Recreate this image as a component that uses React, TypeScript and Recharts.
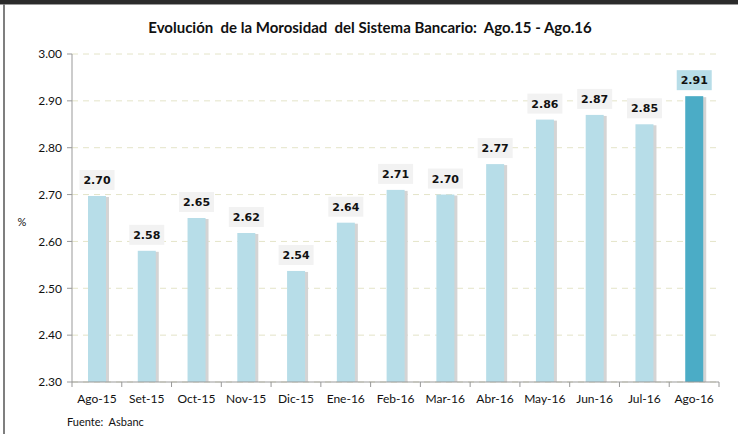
import { Bar, BarChart, CartesianGrid, Cell, LabelList, XAxis, YAxis } from "recharts";

const months = ["Ago-15", "Set-15", "Oct-15", "Nov-15", "Dic-15", "Ene-16", "Feb-16", "Mar-16", "Abr-16", "May-16", "Jun-16", "Jul-16", "Ago-16"];
const morosidad = [2.697, 2.58, 2.65, 2.618, 2.537, 2.64, 2.71, 2.70, 2.765, 2.86, 2.87, 2.85, 2.91];
const yTicks = [2.3, 2.4, 2.5, 2.6, 2.7, 2.8, 2.9, 3.0];

const data = months.map((m, i) => ({ mes: m, valor: morosidad[i] }));

const W = 738;
const H = 434;
const X_H = 30;
const M = { top: 54, right: 19, bottom: 52 - X_H, left: 0 };
const Y_W = 72;
const BAND = (W - Y_W - M.right) / months.length;
const FONT = "Lato, 'Open Sans', sans-serif";

const LIGHT = "#b7dde8";
const DARK = "#4bacc6";

function BarShape(props: any) {
  const { x, y, width, height, fill } = props;
  if (!height || height <= 0) return null;
  return (
    <g>
      <rect x={x + 1} y={y + 1} width={width + 2} height={height - 1} fill="#d4d4d4" />
      <rect x={x} y={y} width={width} height={height} fill={fill} />
    </g>
  );
}

function ValueLabel(props: any) {
  const { x, y, width, value, index } = props;
  const cx = x + width / 2;
  const bw = 35;
  const bh = 20;
  const last = index === months.length - 1;
  return (
    <g>
      <rect x={cx - bw / 2} y={y - 6 - bh} width={bw} height={bh} fill={last ? LIGHT : "#f2f2f2"} />
      <text
        x={cx}
        y={y - 6 - bh / 2 + 4}
        textAnchor="middle"
        fontFamily="'DejaVu Sans', Verdana, sans-serif"
        fontWeight="bold"
        fontSize={11}
        fill="#111"
      >
        {Number(value).toFixed(2)}
      </text>
    </g>
  );
}

function MonthTick(props: any) {
  const { x, y, payload, index } = props;
  const axisY = y - 9;
  return (
    <g>
      <line x1={x + BAND / 2} x2={x + BAND / 2} y1={axisY} y2={axisY + 5} stroke="#999" />
      {index === 0 && <line x1={x - BAND / 2} x2={x - BAND / 2} y1={axisY} y2={axisY + 5} stroke="#999" />}
      <text x={x} y={axisY + 21} textAnchor="middle" fontFamily={FONT} fontSize={12} fill="#111">
        {payload.value}
      </text>
    </g>
  );
}

export default function App() {
  return (
    <div style={{ position: "absolute", left: 0, top: 0, width: W, height: H, background: "#fff", overflow: "hidden" }}>
      {/* frame */}
      <div style={{ position: "absolute", left: 0, top: 0, width: W, height: 4, background: "#2b2b2b" }} />
      <div style={{ position: "absolute", left: 0, top: 4, width: W, height: 1, background: "#9a9a9a" }} />
      <div style={{ position: "absolute", left: 3, top: 4, width: 2, height: H - 4, background: "#7f7f7f" }} />

      <BarChart width={W} height={H} data={data} margin={M} barCategoryGap={0}>
        <text x={370} y={33} textAnchor="middle" fontFamily={FONT} fontWeight="bold" fontSize={15} fill="#111" style={{ whiteSpace: "pre" }}>
          {"Evolución  de la Morosidad  del Sistema Bancario:  Ago.15 - Ago.16"}
        </text>
        <text x={22} y={226} textAnchor="middle" fontFamily={FONT} fontSize={11} fill="#111">
          %
        </text>
        <text x={67} y={426} fontFamily={FONT} fontSize={11} fill="#111" style={{ whiteSpace: "pre" }}>
          {"Fuente:  Asbanc"}
        </text>
        <CartesianGrid vertical={false} stroke="#e4e4c8" strokeDasharray="6 5" />
        <XAxis
          dataKey="mes"
          height={X_H}
          axisLine={{ stroke: "#999" }}
          tickLine={false}
          tickSize={5}
          tickMargin={4}
          interval={0}
          tick={<MonthTick />}
        />
        <YAxis
          width={Y_W}
          domain={[2.3, 3.0]}
          ticks={yTicks}
          tickFormatter={(v) => Number(v).toFixed(2)}
          axisLine={{ stroke: "#999" }}
          tickLine={{ stroke: "#999" }}
          tickSize={5}
          tickMargin={5}
          tick={{ fontFamily: FONT, fontSize: 12, fill: "#111" }}
          allowDataOverflow
        />
        <Bar dataKey="valor" barSize={18} shape={<BarShape />} isAnimationActive={false}>
          {data.map((d, i) => (
            <Cell key={d.mes} fill={i === months.length - 1 ? DARK : LIGHT} />
          ))}
          <LabelList dataKey="valor" content={<ValueLabel />} />
        </Bar>
      </BarChart>
    </div>
  );
}
